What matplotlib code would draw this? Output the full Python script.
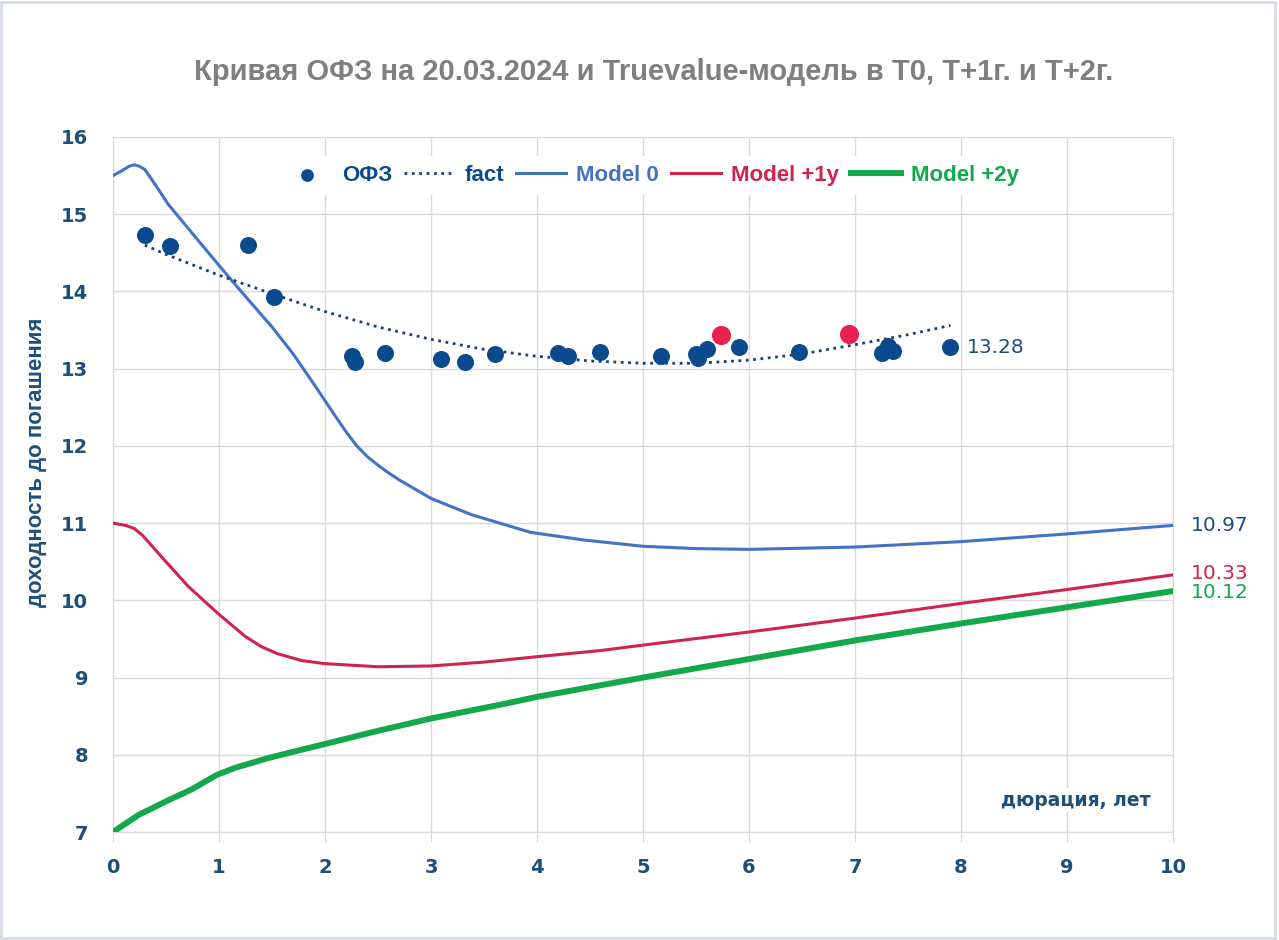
import matplotlib
matplotlib.use("Agg")
import matplotlib.pyplot as plt
from matplotlib.patches import Rectangle
from matplotlib import font_manager

# bonds (ОФЗ): duration, yield
ofz_x = [0.30, 0.54, 1.27, 1.52, 2.25, 2.28, 2.57, 3.09, 3.32, 3.60, 4.20, 4.29, 4.59,
         5.17, 5.50, 5.52, 5.60, 5.91, 6.47, 7.25, 7.31, 7.36, 7.90]
ofz_y = [14.73, 14.59, 14.60, 13.93, 13.16, 13.09, 13.20, 13.12, 13.09, 13.19, 13.20, 13.17, 13.22,
         13.17, 13.19, 13.14, 13.25, 13.28, 13.21, 13.20, 13.29, 13.23, 13.28]
red_x = [5.74, 6.94]
red_y = [13.44, 13.45]

# trendline (fact)
fact_x = [0.3, 0.5, 1.0, 1.5, 2.0, 2.5, 3.0, 3.5, 4.0, 4.5, 5.0, 5.5, 6.0, 6.5, 7.0, 7.5, 7.9]
fact_y = [14.60, 14.48, 14.21, 13.97, 13.74, 13.54, 13.38, 13.25, 13.16, 13.10, 13.07, 13.07,
          13.11, 13.19, 13.31, 13.44, 13.56]

# Model 0
m0_x = [0, 0.08, 0.15, 0.2, 0.25, 0.3, 0.4, 0.52, 0.84, 1.09, 1.31, 1.5, 1.7, 1.9, 2.1, 2.2,
        2.3, 2.4, 2.5, 2.6, 2.7, 2.85, 3.0, 3.38, 3.94, 4.45, 5.0, 5.5, 6.0, 7.0, 8.0, 9.0, 10.0]
m0_y = [15.50, 15.56, 15.62, 15.64, 15.62, 15.58, 15.38, 15.13, 14.60, 14.19, 13.84, 13.54, 13.19,
        12.79, 12.38, 12.18, 12.00, 11.86, 11.75, 11.65, 11.56, 11.44, 11.32, 11.11, 10.88, 10.78,
        10.70, 10.67, 10.66, 10.69, 10.76, 10.86, 10.97]

# Model +1y
m1_x = [0, 0.12, 0.2, 0.28, 0.35, 0.46, 0.71, 0.99, 1.25, 1.4, 1.55, 1.78, 2.0, 2.5, 3.0, 3.5,
        4.0, 4.6, 5.0, 6.0, 7.0, 8.0, 9.0, 10.0]
m1_y = [11.0, 10.97, 10.93, 10.84, 10.73, 10.56, 10.18, 9.83, 9.53, 9.40, 9.31, 9.22, 9.18, 9.14,
        9.15, 9.20, 9.27, 9.35, 9.42, 9.59, 9.77, 9.96, 10.14, 10.33]

# Model +2y
m2_x = [0, 0.24, 0.52, 0.74, 0.98, 1.15, 1.47, 2.0, 2.5, 3.0, 3.66, 4.0, 4.6, 5.0, 6.0, 7.0,
        8.0, 9.0, 10.0]
m2_y = [7.0, 7.22, 7.41, 7.55, 7.74, 7.83, 7.96, 8.14, 8.31, 8.47, 8.65, 8.75, 8.90, 9.0, 9.24,
        9.48, 9.70, 9.91, 10.12]

navy = "#0B4A8F"
dark = "#1F4E79"
c0 = "#4472C4"
c1 = "#D0234F"
c2 = "#12A84B"
red_pt = "#E8224F"
grid_c = "#D9D9D9"

names = {f.name for f in font_manager.fontManager.ttflist}
narrow = [n for n in ["Liberation Sans Narrow", "Liberation Sans"] if n in names]
narrow = narrow[:1] + ["DejaVu Sans"]

fig = plt.figure(figsize=(12.79, 9.40), dpi=100)
ax = fig.add_axes([113 / 1279, 1 - 832 / 940, 1060 / 1279, 695 / 940])

ax.scatter(ofz_x, ofz_y, s=150, color=navy, zorder=5, label="ОФЗ", linewidths=0)
ax.scatter(red_x, red_y, s=190, color=red_pt, zorder=5, linewidths=0)
ax.plot(fact_x, fact_y, ":", color="#1B3F73", lw=2.0, label="fact", zorder=4)
ax.plot(m0_x, m0_y, color=c0, lw=2.2, label="Model 0", zorder=3)
ax.plot(m1_x, m1_y, color=c1, lw=2.2, label="Model +1y", zorder=3)
ax.plot(m2_x, m2_y, color=c2, lw=4.3, label="Model +2y", zorder=3)

ax.set_xlim(0, 10)
ax.set_ylim(7, 16)
ax.set_xticks(range(0, 11))
ax.set_yticks(range(7, 17))
ax.grid(True, color=grid_c, lw=1)
ax.set_axisbelow(True)
for s in ax.spines.values():
    s.set_color(grid_c)
ax.tick_params(axis="x", length=7, color=grid_c, labelsize=14, labelcolor=dark, pad=12)
ax.tick_params(axis="y", length=0, labelsize=14, labelcolor=dark, pad=18)
for lab in ax.get_xticklabels() + ax.get_yticklabels():
    lab.set_fontweight("bold")

# value labels
ax.annotate("13.28", (ofz_x[-1], ofz_y[-1]), xytext=(12, 0), textcoords="offset points",
            ha="left", va="center", fontsize=14.5, color=dark)
ax.annotate("10.97", (m0_x[-1], m0_y[-1]), xytext=(13, 0), textcoords="offset points",
            ha="left", va="center", fontsize=14.5, color=dark, annotation_clip=False)
ax.annotate("10.33", (m1_x[-1], m1_y[-1]), xytext=(13, 1), textcoords="offset points",
            ha="left", va="center", fontsize=14.5, color=c1, annotation_clip=False)
ax.annotate("10.12", (m2_x[-1], m2_y[-1]), xytext=(13, -1), textcoords="offset points",
            ha="left", va="center", fontsize=14.5, color=c2, annotation_clip=False)

ax.set_ylabel("доходность до погашения", fontsize=16, fontweight="bold", color=dark, family=narrow)
ax.yaxis.set_label_coords(-0.062, 0.532)
ax.text(0.908, 0.046, "дюрация, лет", transform=ax.transAxes, ha="center", va="center",
        fontsize=13.5, fontweight="bold", color=dark,
        bbox=dict(facecolor="white", edgecolor="none", pad=2))

leg = ax.legend(loc="center", bbox_to_anchor=(0.507, 0.945), ncol=5, frameon=True,
                handlelength=2.25, columnspacing=0.55, handletextpad=0.45, markerscale=0.75,
                prop={"family": narrow, "weight": "bold", "size": 16},
                labelcolor=[navy, navy, c0, c1, c2])
leg.get_frame().set_facecolor("white")
leg.get_frame().set_edgecolor("none")
leg.get_frame().set_alpha(1)

fig.text(0.511, 1 - 72 / 940, "Кривая ОФЗ на 20.03.2024 и Truevalue-модель в Т0, Т+1г. и Т+2г.",
         ha="center", va="center", fontsize=21, fontweight="bold", color="#7F7F7F", family=narrow)

fig.patches.append(Rectangle((0.001, 0.002), 0.996, 0.996, transform=fig.transFigure,
                             fill=False, edgecolor="#D6DCE5", lw=2))

fig.savefig("out.png", dpi=100)
